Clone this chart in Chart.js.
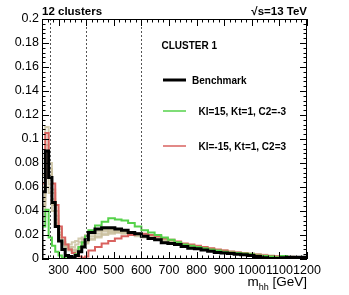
<!DOCTYPE html>
<html>
<head>
<meta charset="utf-8">
<script src="https://cdn.jsdelivr.net/npm/chart.js@4.4.1/dist/chart.umd.min.js"></script>
<style>
  html, body { margin: 0; padding: 0; background: #fff; }
</style>
</head>
<body>
<canvas id="c" width="349" height="295"></canvas>
<script>
/* m_hh shapes for cluster 1 — benchmark vs. two outliers, plus the other members */

const binEdges = [240,252,264,276,288,300,312,324,336,348,360,372,384,396,408,
  432,456,480,504,528,552,576,600,624,648,672,696,720,744,768,792,816,840,864,888,
  912,936,960,984,1008,1032,1056,1080,1104,1128,1152,1176,1200];

const benchmark = [0,.056,.090,.068,.047,.027,.015,.008,.003,.002,.001,.003,.006,.010,
  .016,.022,.025,.026,.026,.025,.024,.022,.021,.019,.017,.016,.0135,.013,.012,.0105,.009,
  .0085,.0075,.0065,.0055,.005,.0045,.004,.0035,.003,.002,.001,.0005,.0005,.001,.0015,.0015];

const klPos = [0,.027,.041,.018,.011,.006,.003,.001,.0005,.0005,.001,.004,.010,.014,
  .019,.024,.028,.031,.034,.033,.032,.030,.027,.024,.022,.020,.018,.016,.014,.012,.011,
  .010,.009,.008,.007,.006,.0055,.005,.0045,.004,.003,.0025,.002,.0015,.0025,.0015,.001];

const klNeg = [0,.063,.105,.068,.063,.045,.027,.018,.012,.008,.005,.003,.002,.001,
  .002,.007,.010,.013,.015,.017,.019,.020,.021,.021,.020,.019,.017,.016,.0145,.013,.012,
  .011,.010,.009,.008,.007,.006,.0055,.005,.004,.0035,.003,.0025,.002,.0015,.001,.001];

// other members of the cluster (beige)
const member1 = [0,.070,.110,.075,.055,.036,.022,.014,.010,.008,.007,.008,.009,.011,
  .013,.016,.018,.020,.021,.022,.022,.021,.020,.019,.018,.017,.015,.014,.013,.012,.011,
  .010,.009,.008,.0075,.007,.006,.0055,.005,.0045,.004,.0035,.003,.0025,.002,.002,.0015];
const member2 = [0,.045,.075,.062,.050,.033,.020,.013,.009,.007,.006,.007,.010,.013,
  .016,.019,.021,.023,.024,.024,.023,.022,.021,.020,.018,.017,.016,.014,.013,.012,.011,
  .010,.009,.008,.007,.0065,.006,.005,.0045,.004,.0035,.003,.0025,.002,.0015,.0015,.001];
const member3 = [0,.035,.060,.055,.040,.028,.018,.012,.010,.009,.010,.012,.014,.016,
  .019,.021,.023,.025,.025,.024,.023,.022,.020,.019,.018,.016,.015,.014,.012,.011,.010,
  .009,.0085,.0075,.007,.006,.0055,.005,.0045,.004,.003,.0025,.002,.002,.0015,.001,.001];
const member4 = [0,.060,.095,.070,.045,.030,.020,.014,.011,.012,.014,.015,.017,.018,
  .020,.022,.024,.024,.023,.022,.021,.020,.019,.018,.017,.016,.015,.013,.012,.011,.010,
  .009,.008,.0075,.007,.0065,.006,.005,.0045,.004,.0035,.003,.0025,.002,.0015,.0015,.001];
const member5 = [0,.050,.085,.080,.058,.040,.025,.016,.012,.010,.008,.006,.008,.011,
  .014,.017,.019,.021,.022,.023,.022,.021,.021,.020,.019,.018,.016,.015,.013,.012,.011,
  .010,.0095,.0085,.0075,.007,.006,.0055,.005,.0045,.004,.003,.0025,.002,.002,.0015,.001];

const xTicks = [300,400,500,600,700,800,900,1000,1100,1200];
const yTicks = [0,0.02,0.04,0.06,0.08,0.1,0.12,0.14,0.16,0.18,0.2];
const markerLines = [270,400,600];

const FONT = "'Liberation Sans', Arial, Helvetica, sans-serif";

function histo(vals) {
  const pts = vals.map((v, i) => ({ x: binEdges[i], y: v }));
  pts.push({ x: binEdges[binEdges.length - 1], y: vals[vals.length - 1] });
  return pts;
}

function hds(vals, color, width, order) {
  return {
    data: histo(vals), borderColor: color, borderWidth: width,
    stepped: 'after', pointRadius: 0, fill: false, order
  };
}

const beige = 'rgba(200,190,155,0.8)';
const datasets = [
  hds(benchmark, '#000000', 3, 0),
  hds(klPos, '#55d24a', 2, 1),
  hds(klNeg, '#d9625f', 2, 2),
  hds(member1, beige, 2, 3),
  hds(member2, beige, 2, 3),
  hds(member3, beige, 2, 3),
  hds(member4, beige, 2, 3),
  hds(member5, beige, 2, 3),
];

// ROOT-like frame: inward ticks on all four sides, dotted markers, texts
const rootFrame = {
  id: 'rootFrame',
  afterDatasetsDraw(chart) {
    const { ctx, chartArea: a, scales: { x, y } } = chart;
    ctx.save();

    // dotted marker lines
    ctx.strokeStyle = '#555';
    ctx.lineWidth = 1;
    ctx.setLineDash([2, 2]);
    markerLines.forEach(m => {
      const px = Math.round(x.getPixelForValue(m)) + 0.5;
      ctx.beginPath(); ctx.moveTo(px, a.top); ctx.lineTo(px, a.bottom); ctx.stroke();
    });
    ctx.setLineDash([]);

    // frame
    ctx.strokeStyle = '#000';
    ctx.strokeRect(a.left + 0.5, a.top + 0.5, a.right - a.left - 1, a.bottom - a.top - 1);

    // x ticks (bottom + top)
    ctx.beginPath();
    for (let m = 240; m <= 1200; m += 20) {
      const px = Math.round(x.getPixelForValue(m)) + 0.5;
      const len = (m % 100 === 0) ? 7 : 3.5;
      ctx.moveTo(px, a.bottom); ctx.lineTo(px, a.bottom - len);
      ctx.moveTo(px, a.top); ctx.lineTo(px, a.top + len);
    }
    // y ticks (left + right)
    for (let k = 0; k <= 50; k++) {
      const v = k * 0.004;
      const py = Math.round(y.getPixelForValue(v)) + 0.5;
      const len = (k % 5 === 0) ? 7 : 3.5;
      ctx.moveTo(a.left, py); ctx.lineTo(a.left + len, py);
      ctx.moveTo(a.right, py); ctx.lineTo(a.right - len, py);
    }
    ctx.stroke();

    // header texts
    ctx.fillStyle = '#000';
    ctx.font = `bold 11.5px ${FONT}`;
    ctx.textBaseline = 'alphabetic';
    ctx.textAlign = 'left';
    ctx.fillText('12 clusters', a.left, 15);
    ctx.textAlign = 'right';
    ctx.fillText('\u221As=13 TeV', a.right, 15);

    // x title with subscript
    const big = `13.5px ${FONT}`, small = `9px ${FONT}`;
    ctx.textAlign = 'left';
    ctx.font = big; const wm = ctx.measureText('m').width, wg = ctx.measureText(' [GeV]').width;
    ctx.font = small; const wh = ctx.measureText('hh').width;
    let tx = a.right - (wm + wh + wg);
    ctx.font = big; ctx.fillText('m', tx, 286);
    ctx.font = small; ctx.fillText('hh', tx + wm, 290);
    ctx.font = big; ctx.fillText(' [GeV]', tx + wm + wh, 286);

    // legend
    ctx.font = `bold 10px ${FONT}`;
    ctx.fillText('CLUSTER 1', 161.5, 49);
    const leg = [
      ['Benchmark', '#000000', 3, 80, 192],
      ['Kl=15, Kt=1, C2=-3', '#55d24a', 1.5, 111, 198.5],
      ['Kl=-15, Kt=1, C2=3', '#d9625f', 1.5, 146, 198.5],
    ];
    leg.forEach(([txt, col, w, ly, lx]) => {
      ctx.strokeStyle = col; ctx.lineWidth = w;
      ctx.beginPath(); ctx.moveTo(163, ly); ctx.lineTo(186, ly); ctx.stroke();
      ctx.fillStyle = '#000';
      ctx.fillText(txt, lx, ly + 3.5);
    });
    ctx.restore();
  }
};

new Chart(document.getElementById('c'), {
  type: 'line',
  data: { datasets },
  plugins: [rootFrame],
  options: {
    responsive: false,
    animation: false,
    layout: { padding: { top: 19, right: 42, left: 0, bottom: 0 } },
    plugins: { legend: { display: false }, tooltip: { enabled: false } },
    scales: {
      x: {
        type: 'linear', min: 240, max: 1200,
        afterFit: s => { s.height = 36; },
        afterBuildTicks: s => { s.ticks = xTicks.map(v => ({ value: v })); },
        grid: { display: false, drawTicks: false },
        border: { display: false },
        ticks: { padding: 4, maxRotation: 0, autoSkip: false, color: '#000',
                 font: { family: FONT, size: 12.5 }, callback: v => String(v) }
      },
      y: {
        type: 'linear', min: 0, max: 0.2,
        afterFit: s => { s.width = 42; },
        afterBuildTicks: s => { s.ticks = yTicks.map(v => ({ value: v })); },
        grid: { display: false, drawTicks: false },
        border: { display: false },
        ticks: { padding: 3, autoSkip: false, color: '#000',
                 font: { family: FONT, size: 12.5 },
                 callback: v => String(+v.toFixed(2)) }
      }
    }
  }
});
</script>
</body>
</html>
